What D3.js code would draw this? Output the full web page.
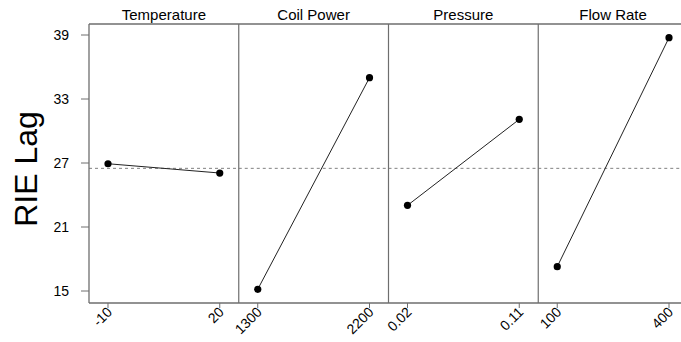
<!DOCTYPE html>
<html>
<head>
<meta charset="utf-8">
<script src="https://cdn.jsdelivr.net/npm/d3@7"></script>
<style>
  html, body { margin: 0; padding: 0; background: #fff; overflow: hidden; }
  svg { display: block; overflow: hidden; font-family: Arial, "Liberation Sans", sans-serif; }
</style>
</head>
<body>
<svg id="chart" width="681" height="342"></svg>
<script>
// Main effects plot for RIE Lag
const factors = ["Temperature", "Coil Power", "Pressure", "Flow Rate"];
const levelLabels = [["-10", "20"], ["1300", "2200"], ["0.02", "0.11"], ["100", "400"]];
const meanValues = [[26.93, 26.06], [15.16, 35.0], [23.03, 31.09], [17.28, 38.75]];
const grandMean = 26.5;
const yTicks = [15, 21, 27, 33, 39];
const yTitle = "RIE Lag";

(function draw() {
  const svg = d3.select("#chart");
  const plotLeft = 89, plotTop = 24, plotBottom = 303;
  const panelW = 149.75;
  const frameRight = 700; // frame continues past the right edge of the view

  const y = d3.scaleLinear().domain([15, 39]).range([291, 35]);
  const frameColor = "#6e6e6e";

  factors.forEach((f, i) => {
    const x0 = plotLeft + i * panelW;
    const x = d3.scalePoint().domain(levelLabels[i]).range([x0, x0 + panelW]).padding(0.17);
    const g = svg.append("g");

    // grand mean reference line
    g.append("line")
      .attr("x1", x0).attr("x2", x0 + panelW)
      .attr("y1", y(grandMean)).attr("y2", y(grandMean))
      .attr("stroke", "#808080").attr("stroke-width", 1)
      .attr("stroke-dasharray", "3,3");

    // panel title
    g.append("text")
      .attr("x", x0 + panelW / 2).attr("y", 20)
      .attr("text-anchor", "middle")
      .attr("font-size", 15).attr("fill", "#000")
      .text(f);

    // x ticks and rotated labels
    levelLabels[i].forEach(lbl => {
      const px = x(lbl);
      g.append("line")
        .attr("x1", px).attr("x2", px)
        .attr("y1", plotBottom).attr("y2", plotBottom + 5)
        .attr("stroke", frameColor).attr("stroke-width", 1);
      g.append("text")
        .attr("transform", `translate(${px + 5},${plotBottom + 10}) rotate(-45)`)
        .attr("text-anchor", "end")
        .attr("font-size", 14).attr("fill", "#000")
        .text(lbl);
    });

    // connecting line and points
    const pts = levelLabels[i].map((lbl, j) => ({ x: x(lbl), v: meanValues[i][j] }));
    g.append("path")
      .datum(pts)
      .attr("d", d3.line().x(d => d.x).y(d => y(d.v)))
      .attr("fill", "none").attr("stroke", "#222").attr("stroke-width", 1);
    g.selectAll("circle").data(pts).join("circle")
      .attr("cx", d => d.x).attr("cy", d => y(d.v))
      .attr("r", 3.6).attr("fill", "#000");

    // divider between panels
    if (i > 0) {
      g.append("line")
        .attr("x1", x0).attr("x2", x0)
        .attr("y1", plotTop).attr("y2", plotBottom)
        .attr("stroke", frameColor).attr("stroke-width", 1.2);
    }
  });

  // frame: top, left and bottom edges
  const frame = svg.append("g")
    .attr("stroke", frameColor).attr("stroke-width", 1.3).attr("fill", "none");
  frame.append("line").attr("x1", plotLeft).attr("x2", frameRight).attr("y1", plotTop).attr("y2", plotTop);
  frame.append("line").attr("x1", plotLeft).attr("x2", frameRight).attr("y1", plotBottom).attr("y2", plotBottom);
  frame.append("line").attr("x1", plotLeft).attr("x2", plotLeft).attr("y1", plotTop).attr("y2", plotBottom);

  // y axis ticks and labels
  const yAxis = svg.append("g");
  yTicks.forEach(t => {
    yAxis.append("line")
      .attr("x1", plotLeft - 8).attr("x2", plotLeft)
      .attr("y1", y(t)).attr("y2", y(t))
      .attr("stroke", frameColor).attr("stroke-width", 1);
    yAxis.append("text")
      .attr("x", plotLeft - 20).attr("y", y(t))
      .attr("dy", "0.36em")
      .attr("text-anchor", "end")
      .attr("font-size", 14).attr("fill", "#000")
      .text(t);
  });

  // y title
  svg.append("text")
    .attr("transform", `translate(37,169) rotate(-90)`)
    .attr("text-anchor", "middle")
    .attr("font-size", 32).attr("fill", "#000")
    .text(yTitle);
})();
</script>
</body>
</html>
